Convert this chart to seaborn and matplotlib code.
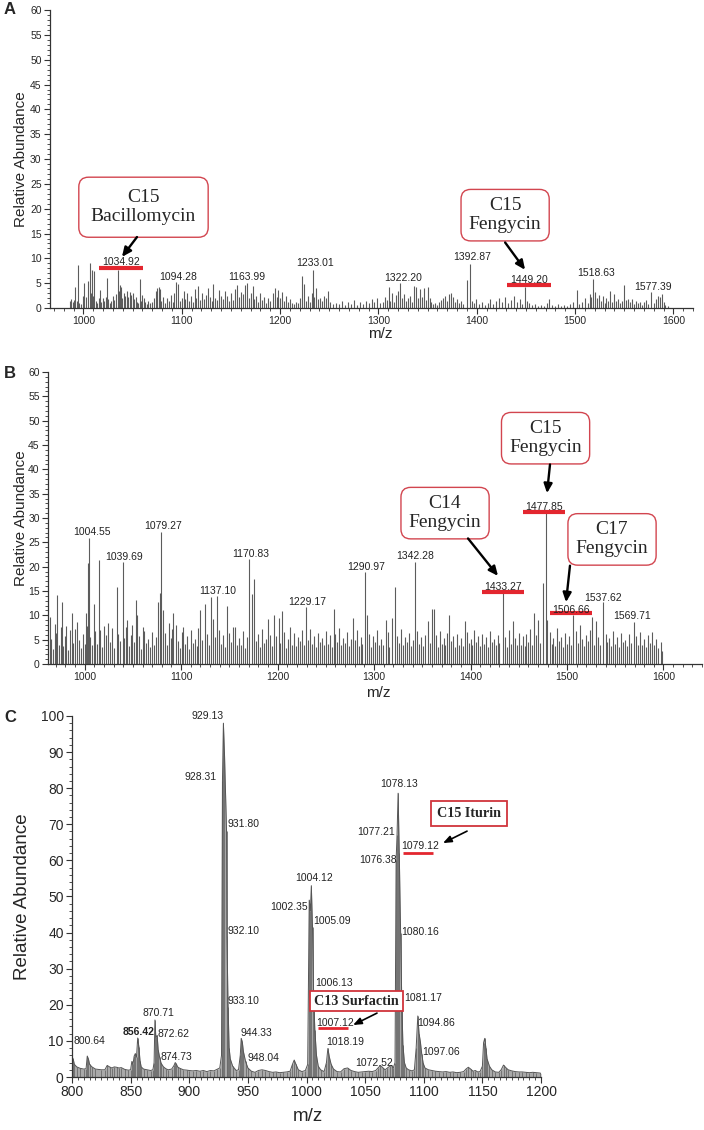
import numpy as np
import pandas as pd
import matplotlib
matplotlib.use('Agg')
import matplotlib.pyplot as plt
import seaborn as sns
from matplotlib.ticker import MultipleLocator

sns.set_style('ticks')
plt.rcParams['font.family'] = ['Liberation Sans', 'DejaVu Sans']

# ---------------- data ----------------
# panel A : stick spectrum (m/z, relative abundance)
a_peaks = [
    (986, 1.5), (987.5, 1.8), (989, 1.2), (990, 1.6), (991.9, 4.3), (993, 1.5), (994.6, 8.7), (996, 1.0),
    (998, 0.8), (999.5, 2.5), (1001, 5.0), (1002.5, 2.2), (1004.7, 5.4), (1006.4, 9.1), (1007.5, 3.0),
    (1008.8, 7.7), (1010, 2.5), (1011.2, 7.4), (1012.5, 1.5), (1014, 1.0), (1015.5, 2.0), (1016.6, 3.7),
    (1018, 1.2), (1019.5, 2.0), (1021, 1.5), (1022.5, 2.2), (1024.1, 6.0), (1025.5, 1.8), (1027, 1.0),
    (1028.5, 1.5), (1030, 2.5), (1031.5, 1.6), (1033, 2.8), (1034.92, 7.6), (1036, 3.5), (1036.9, 4.7),
    (1038, 4.3), (1039.5, 2.0), (1041, 3.0), (1042.5, 2.5), (1044, 3.5), (1045.5, 2.2), (1047, 3.2),
    (1048.5, 2.6), (1050, 3.0), (1051.5, 1.8), (1053, 2.2), (1054.5, 1.3), (1056, 1.0), (1057.2, 5.8),
    (1058.5, 1.5), (1060, 2.6), (1061.5, 2.0), (1063, 1.2), (1064.5, 0.8), (1066, 1.5), (1068, 1.0),
    (1070, 1.3), (1072, 2.0), (1074, 3.5), (1075.2, 4.0), (1076.4, 4.3), (1077.5, 3.8), (1079, 1.5),
    (1081, 2.2), (1083, 1.0), (1085, 2.0), (1087, 1.4), (1089, 2.6), (1091, 1.2), (1092.5, 3.0),
    (1094.28, 5.2), (1096.7, 4.9), (1098, 1.5), (1100, 2.0), (1102, 3.4), (1103.5, 1.8), (1105, 3.0),
    (1107, 1.5), (1109, 2.4), (1111, 1.2), (1113, 3.8), (1115, 2.0), (1117, 4.5), (1119, 1.6), (1121, 3.0),
    (1123, 1.8), (1125, 2.7), (1127, 4.0), (1129, 2.2), (1130.5, 1.5), (1132.3, 4.8), (1134, 2.0),
    (1136, 1.6), (1138, 3.6), (1140, 2.5), (1142, 1.8), (1144, 3.5), (1146, 2.4), (1148, 1.4), (1150, 3.0),
    (1152, 1.6), (1154, 3.8), (1156, 4.6), (1158, 2.2), (1160, 3.3), (1162, 2.8), (1163.99, 4.6),
    (1166.1, 5.0), (1168, 2.0), (1170, 3.1), (1172, 4.5), (1174, 1.8), (1176, 2.5), (1178, 1.2), (1180, 3.0),
    (1182, 1.6), (1184, 2.3), (1186, 1.0), (1188, 2.0), (1190, 1.5), (1192.5, 3.0), (1194.9, 4.1),
    (1196.5, 2.2), (1198, 3.7), (1200, 2.0), (1202, 3.2), (1204, 1.5), (1206, 2.5), (1208, 1.2), (1210, 1.8),
    (1212, 1.0), (1214, 0.8), (1216, 1.2), (1218, 1.0), (1220, 2.0), (1222, 6.4), (1224, 4.8), (1226, 1.5),
    (1228, 2.5), (1230, 1.2), (1232, 3.0), (1233.01, 7.6), (1235, 2.2), (1237, 4.0), (1239, 1.8), (1241, 2.0),
    (1243, 1.5), (1245, 2.4), (1247, 2.0), (1249, 3.4), (1251, 1.2), (1254, 0.8), (1257, 1.0), (1260, 0.8),
    (1263, 1.4), (1266, 0.6), (1269, 1.2), (1272, 0.8), (1275, 1.6), (1278, 0.7), (1281, 1.2), (1284, 0.8),
    (1287, 1.4), (1290, 1.0), (1293, 1.8), (1296, 1.2), (1299, 2.0), (1302, 1.0), (1305, 1.3), (1307, 2.2),
    (1309, 1.6), (1310.3, 4.3), (1312, 1.5), (1314, 3.0), (1316, 1.2), (1318, 2.6), (1320, 3.5),
    (1322.2, 5.0), (1324, 2.0), (1326, 2.8), (1328, 1.5), (1330, 2.0), (1332, 2.4), (1334, 1.2), (1336, 4.5),
    (1338, 4.2), (1340, 2.0), (1342, 3.8), (1344, 2.2), (1346, 4.1), (1348, 1.6), (1350, 4.2), (1352, 2.0),
    (1354, 1.2), (1356, 0.8), (1358, 1.0), (1360, 0.7), (1362, 1.2), (1364, 1.6), (1366, 2.0), (1368, 2.5),
    (1370, 1.4), (1372, 2.9), (1374, 3.1), (1376, 2.2), (1378, 1.2), (1380, 1.8), (1382, 1.0), (1384, 1.4),
    (1386, 0.8), (1389.7, 5.7), (1392.87, 8.9), (1395, 1.5), (1397, 1.0), (1399, 1.8), (1402, 0.8),
    (1405, 1.2), (1408, 0.6), (1411, 1.0), (1414, 1.8), (1417, 0.8), (1420, 1.5), (1423, 2.0), (1426, 1.2),
    (1429, 2.2), (1432, 1.0), (1435, 1.6), (1438, 2.5), (1441, 1.2), (1444, 1.8), (1446, 0.8),
    (1449.2, 4.3), (1451, 1.5), (1453, 1.0), (1456, 0.6), (1459, 0.8), (1462, 0.5), (1465, 0.7), (1468, 0.5),
    (1471, 1.0), (1474, 1.8), (1477, 0.6), (1480, 0.5), (1483, 0.8), (1486, 0.5), (1489, 0.7), (1492, 0.5),
    (1495, 0.8), (1498, 1.2), (1501.8, 3.6), (1504, 0.8), (1507, 1.2), (1510, 2.0), (1513, 1.0), (1515, 2.8),
    (1516.5, 2.2), (1518.63, 5.8), (1520, 3.2), (1522, 2.0), (1524, 2.6), (1526, 1.5), (1528, 2.4),
    (1530, 1.0), (1532, 2.0), (1534, 1.5), (1536, 3.5), (1538, 1.2), (1540, 2.8), (1542, 1.4), (1544, 1.8),
    (1546, 1.0), (1548, 1.5), (1549.8, 4.6), (1552, 1.6), (1554, 1.8), (1556, 1.2), (1558, 1.8), (1560, 0.8),
    (1562, 1.4), (1564, 1.0), (1566, 1.2), (1568, 0.7), (1570, 1.2), (1572, 1.6), (1574, 0.8),
    (1577.39, 3.3), (1580, 1.0), (1582, 1.8), (1584, 2.5), (1586, 2.2), (1588, 2.8), (1590, 1.2),
    (1592, 0.6), (1595, 0.4),
]

# panel B : main ions and background ions
b_major = [
    (963.6, 9.7), (968.8, 8.2), (971.5, 14.2), (976.5, 12.8), (981, 7.8), (986.8, 10.4), (992, 8.6),
    (1001, 10.4), (1003.6, 20.7), (1004.55, 25.8), (1009.4, 12.3), (1014.6, 21.3), (1020, 7.8), (1024, 8.5),
    (1033, 15.8), (1039.69, 21.0), (1044, 9.0), (1049, 8.0), (1053, 13.2), (1054.2, 10.0), (1060, 7.6),
    (1076, 12.7), (1078, 14.5), (1079.27, 27.2), (1081.5, 11.0), (1087, 8.4), (1092, 10.4), (1095, 8.0),
    (1102, 7.7), (1119.5, 11.0), (1124.8, 12.4), (1130.7, 13.8), (1133, 9.2), (1137.1, 14.0),
    (1147.5, 11.9), (1156, 7.6), (1170.83, 21.5), (1173, 14.4), (1175.5, 17.4), (1190.5, 9.3),
    (1196, 10.0), (1201, 9.5), (1205, 10.8), (1229.17, 11.8), (1258, 11.4), (1278, 9.5), (1290.97, 19.0),
    (1292.5, 10.0), (1312, 9.0), (1319, 9.5), (1321.5, 15.9), (1342.28, 21.0), (1356, 8.9), (1360, 11.3),
    (1362, 11.3), (1378, 10.0), (1394, 8.9), (1433.27, 14.5), (1444, 8.9), (1466, 10.5), (1470, 9.1),
    (1475.2, 16.6), (1477.85, 31.0), (1479, 9.0), (1506.66, 10.0), (1514, 8.0), (1526, 9.7), (1530, 8.8),
    (1537.62, 12.8), (1569.71, 8.7),
]

b_minor = [
    (965, 5.2), (967, 3.1), (970, 6.4), (973, 4.0), (975, 7.5), (978, 3.6), (980, 5.8), (983, 2.9),
    (985, 6.9), (988, 4.4), (990, 7.2), (994, 5.0), (996, 3.3), (998, 6.1), (1000, 4.2), (1002, 7.8),
    (1006, 5.5), (1008, 3.8), (1011, 6.7), (1013, 4.1), (1016, 7.0), (1018, 3.4), (1022, 5.9), (1026, 4.6),
    (1028, 7.3), (1030, 3.2), (1035, 6.2), (1037, 4.8), (1041, 5.3), (1043, 7.6), (1046, 3.7), (1048, 6.0),
    (1051, 4.5), (1056, 5.7), (1058, 3.0), (1062, 6.8), (1064, 4.3), (1066, 5.1), (1068, 3.5), (1070, 6.5),
    (1072, 4.0), (1074, 5.6), (1083, 6.3), (1085, 3.9), (1089, 5.4), (1091, 7.1), (1097, 4.7), (1099, 3.3),
    (1101, 6.6), (1104, 4.2), (1106, 5.8), (1108, 3.1), (1110, 6.9), (1112, 4.4), (1114, 5.2), (1116, 3.6),
    (1118, 7.4), (1122, 4.9), (1127, 6.1), (1129, 3.8), (1135, 5.5), (1139, 7.0), (1141, 4.1), (1143, 5.9),
    (1145, 3.4), (1150, 6.4), (1152, 4.6), (1154, 7.7), (1158, 3.9), (1160, 5.3), (1162, 4.0), (1164, 6.7),
    (1166, 3.2), (1168, 5.6), (1178, 4.8), (1180, 6.2), (1182, 3.5), (1184, 7.2), (1186, 4.3), (1188, 5.1),
    (1192, 6.0), (1194, 3.7), (1198, 5.8), (1203, 4.4), (1207, 6.6), (1209, 3.3), (1211, 5.2), (1213, 7.5),
    (1215, 4.0), (1217, 6.3), (1219, 3.6), (1221, 5.5), (1223, 4.7), (1225, 6.9), (1227, 3.9), (1232, 5.0),
    (1234, 7.1), (1236, 4.2), (1238, 5.7), (1240, 3.4), (1242, 6.4), (1244, 4.5), (1246, 5.3), (1248, 3.8),
    (1250, 6.8), (1252, 4.1), (1254, 5.9), (1256, 3.5), (1260, 6.2), (1262, 4.6), (1264, 7.3), (1266, 3.9),
    (1268, 5.4), (1270, 4.3), (1272, 6.5), (1274, 3.6), (1276, 5.1), (1280, 4.9), (1282, 7.0), (1284, 3.7),
    (1286, 5.6), (1288, 4.2), (1295, 6.1), (1297, 3.4), (1299, 5.7), (1301, 4.5), (1303, 6.9), (1305, 3.8),
    (1307, 5.2), (1309, 4.0), (1314, 6.6), (1316, 3.5), (1324, 5.8), (1326, 4.3), (1328, 7.2), (1330, 3.9),
    (1332, 5.5), (1334, 4.6), (1336, 6.3), (1338, 3.6), (1340, 5.0), (1345, 6.7), (1347, 4.1), (1349, 5.6),
    (1351, 3.7), (1353, 6.0), (1358, 4.4), (1364, 5.9), (1366, 3.4), (1368, 6.8), (1370, 4.2), (1372, 5.3),
    (1374, 3.8), (1376, 6.4), (1380, 4.7), (1382, 5.7), (1384, 3.5), (1386, 6.1), (1388, 4.0), (1390, 5.4),
    (1392, 3.6), (1396, 6.5), (1398, 4.3), (1400, 5.1), (1402, 3.9), (1404, 7.0), (1406, 4.5), (1408, 5.8),
    (1410, 3.7), (1412, 6.2), (1414, 4.1), (1416, 5.5), (1418, 3.4), (1420, 6.7), (1422, 4.6), (1424, 5.2),
    (1426, 3.8), (1428, 6.0), (1430, 4.4), (1436, 5.6), (1438, 3.5), (1440, 6.9), (1442, 4.2), (1446, 5.3),
    (1448, 3.9), (1450, 6.4), (1452, 4.0), (1454, 5.7), (1456, 3.6), (1458, 6.1), (1460, 4.5), (1462, 7.2),
    (1464, 3.8), (1468, 5.9), (1472, 4.3), (1482, 6.6), (1484, 4.1), (1486, 5.4), (1488, 3.7), (1490, 7.4),
    (1492, 4.8), (1494, 5.5), (1496, 3.5), (1498, 6.3), (1500, 4.2), (1502, 5.8), (1504, 3.9), (1509, 6.7),
    (1511, 4.4), (1516, 5.1), (1518, 3.6), (1520, 6.0), (1522, 4.7), (1524, 7.0), (1528, 4.0), (1532, 5.6),
    (1534, 3.8), (1540, 6.2), (1542, 4.5), (1544, 5.3), (1546, 3.7), (1548, 6.8), (1550, 4.1), (1552, 5.5),
    (1554, 3.4), (1556, 6.4), (1558, 4.6), (1560, 5.0), (1562, 3.6), (1564, 6.1), (1566, 4.3), (1572, 5.7),
    (1574, 3.9), (1576, 6.5), (1578, 4.0), (1580, 5.2), (1582, 3.5), (1584, 5.9), (1586, 4.4), (1588, 6.6),
    (1590, 3.8), (1592, 5.1), (1594, 3.2), (1597, 4.5), (1599, 2.6),
]

# panel C : profile spectrum
c_profile = [
    (800, 5.5), (801, 5.0), (802, 3.5), (804, 2.8), (807, 2.4), (810, 2.2), (812, 2.3), (813, 5.8),
    (814, 5.0), (815, 3.5), (817, 2.8), (820, 2.2), (825, 2.0), (828, 2.0), (830, 3.2), (832, 2.8),
    (834, 2.5), (836, 2.8), (838, 2.7), (840, 2.5), (842, 2.6), (845, 2.1), (848, 1.9), (850, 2.0),
    (851, 4.3), (852, 3.5), (853, 5.8), (854, 6.5), (855, 5.5), (856, 10.8), (857, 8.4), (858, 4.5),
    (859, 2.8), (861, 2.2), (864, 2.0), (867, 1.8), (869, 2.0), (870, 4.0), (870.7, 15.8), (871.5, 11.0),
    (872.6, 11.5), (873.5, 7.5), (874.7, 5.5), (876, 3.8), (878, 2.8), (880, 2.3), (882, 2.0), (885, 2.2),
    (887, 3.2), (888, 4.0), (889, 3.6), (890, 2.8), (892, 2.4), (895, 2.0), (898, 1.9), (900, 1.8),
    (903, 1.7), (906, 1.8), (909, 1.6), (912, 1.8), (915, 1.5), (918, 1.8), (921, 1.7), (924, 2.2),
    (926, 2.5), (927.5, 6.0), (928.3, 82.0), (929.1, 98.0), (930.0, 90.0), (931.8, 68.0), (932.1, 39.0),
    (933.1, 19.5), (934, 8.0), (935, 5.0), (937, 3.0), (940, 1.8), (942, 2.0), (943.5, 6.0), (944.3, 10.7),
    (945.2, 9.8), (946.2, 7.0), (948, 4.3), (950, 2.5), (953, 1.6), (956, 1.3), (959, 1.8), (962, 2.0),
    (965, 1.8), (968, 1.5), (971, 1.3), (974, 1.4), (977, 1.2), (980, 1.3), (983, 1.4), (986, 1.6),
    (988, 3.5), (989.5, 4.7), (991, 3.5), (993, 2.0), (996, 1.5), (999, 1.8), (1001, 3.5), (1002.3, 49.0),
    (1003.3, 46.0), (1004.1, 53.0), (1005.1, 41.6), (1006.1, 22.0), (1007.1, 13.0), (1008.5, 6.0),
    (1010, 3.0), (1012, 2.0), (1015, 1.5), (1017, 4.0), (1018.2, 7.9), (1019.5, 5.5), (1021, 3.5),
    (1023, 2.2), (1026, 1.5), (1029, 1.4), (1032, 2.3), (1035, 2.5), (1038, 1.8), (1041, 1.5), (1044, 1.3),
    (1047, 1.4), (1050, 1.5), (1053, 1.6), (1056, 1.5), (1059, 1.8), (1061, 2.5), (1063, 3.2), (1065, 2.6),
    (1067, 2.0), (1069, 2.5), (1071, 3.0), (1072.5, 3.2), (1074, 2.5), (1075.5, 4.0), (1076.4, 60.0),
    (1077.2, 67.0), (1078.1, 78.6), (1079.1, 62.0), (1080.2, 40.0), (1081.2, 21.8), (1082.2, 9.0),
    (1083.5, 4.0), (1085, 2.5), (1087, 2.0), (1090, 1.7), (1092, 2.0), (1093.5, 8.0), (1094.9, 16.9),
    (1096, 12.0), (1097.1, 9.8), (1098.2, 6.5), (1099.5, 3.8), (1101, 2.5), (1104, 2.0), (1107, 1.8),
    (1110, 1.6), (1113, 1.5), (1116, 1.4), (1119, 1.5), (1122, 1.3), (1125, 1.4), (1128, 1.2), (1131, 1.3),
    (1134, 1.5), (1136, 2.2), (1138, 2.7), (1140, 2.2), (1142, 1.6), (1144, 1.8), (1146, 1.4), (1148, 1.5),
    (1150, 3.0), (1151, 9.5), (1152, 10.7), (1153, 8.0), (1154, 5.0), (1156, 3.0), (1158, 2.0), (1161, 1.4),
    (1164, 1.3), (1166, 2.0), (1168, 3.3), (1170, 2.6), (1172, 2.0), (1175, 1.7), (1178, 1.5), (1181, 1.4),
    (1184, 1.4), (1187, 1.3), (1190, 1.2), (1193, 1.3), (1196, 1.2), (1199, 1.1), (1200, 1.0),
]

df_a = pd.DataFrame(a_peaks, columns=['mz', 'abund'])
df_b = pd.DataFrame(b_major + b_minor, columns=['mz', 'abund'])
df_c = pd.DataFrame(c_profile, columns=['mz', 'abund'])

# ---------------- figure ----------------
fig = plt.figure(figsize=(7.04, 11.30), dpi=100)
ax_a = fig.add_axes([0.0710, 0.7274, 0.9134, 0.2637])
ax_b = fig.add_axes([0.0682, 0.4124, 0.9290, 0.2584])
ax_c = fig.add_axes([0.1023, 0.0469, 0.6662, 0.3195])

LINE = '#5c5c5c'
RED = '#e3262f'
BOX_RED = '#d2454f'


def style_axis(ax, xlim, ylim, xmaj, xmin, ymaj, ymin, tsize):
    ax.set_xlim(*xlim)
    ax.set_ylim(*ylim)
    sns.despine(ax=ax)
    for s in ['left', 'bottom']:
        ax.spines[s].set_linewidth(0.9)
        ax.spines[s].set_color('#333333')
    ax.xaxis.set_major_locator(MultipleLocator(xmaj))
    ax.xaxis.set_minor_locator(MultipleLocator(xmin))
    ax.yaxis.set_major_locator(MultipleLocator(ymaj))
    ax.yaxis.set_minor_locator(MultipleLocator(ymin))
    ax.tick_params(which='major', length=4, width=0.8, labelsize=tsize, color='#333333', pad=2)
    ax.tick_params(which='minor', length=2, width=0.6, color='#333333')


def callout(ax, text, box_xy, arrow_from, arrow_to, pad=0.4):
    ax.text(box_xy[0], box_xy[1], text, ha='center', va='center', fontsize=14,
            family='Liberation Serif', linespacing=1.15,
            bbox=dict(boxstyle=f'round,pad={pad},rounding_size=0.5', fc='white', ec=BOX_RED, lw=1.0))
    ax.annotate('', xy=arrow_to, xytext=arrow_from,
                arrowprops=dict(arrowstyle='-|>,head_length=0.55,head_width=0.25',
                                color='black', lw=1.7, shrinkA=0, shrinkB=0))


def underline(ax, x0, x1, y, lw=3):
    ax.plot([x0, x1], [y, y], color=RED, lw=lw, solid_capstyle='butt')


# ---- panel A ----
ax_a.vlines(df_a['mz'], 0, df_a['abund'], color=LINE, lw=0.8)
style_axis(ax_a, (966, 1620), (0, 60), 100, 10, 5, 1, 7.5)
ax_a.set_ylabel('Relative Abundance', fontsize=11)
ax_a.yaxis.set_label_coords(-0.034, 0.5)
ax_a.set_xlabel('m/z', fontsize=11)
ax_a.xaxis.set_label_coords(0.513, -0.062)

a_label_pos = [('1034.92', 1038.2, 9.3), ('1094.28', 1096.2, 6.2), ('1163.99', 1166.4, 6.2),
               ('1233.01', 1235.6, 9.1), ('1322.20', 1325.1, 6.0), ('1392.87', 1395.3, 10.3),
               ('1449.20', 1453.3, 5.6), ('1518.63', 1521.4, 7.0), ('1577.39', 1579.4, 4.2)]
for t, x, y in a_label_pos:
    ax_a.text(x, y, t, ha='center', va='center', fontsize=7.5, color='#222222')
underline(ax_a, 1015.8, 1060.6, 8.05)
underline(ax_a, 1430.9, 1475.7, 4.63)
callout(ax_a, 'C15\nBacillomycin', (1061.1, 20.3), (1054.5, 14.3), (1039.2, 10.3), pad=0.62)
callout(ax_a, 'C15\nFengycin', (1428.9, 18.7), (1428.9, 13.2), (1449.2, 7.7))

# ---- panel B ----
ax_b.vlines(df_b['mz'], 0, df_b['abund'], color=LINE, lw=0.8)
style_axis(ax_b, (962, 1640), (0, 60), 100, 10, 5, 1, 7.5)
ax_b.set_ylabel('Relative Abundance', fontsize=11)
ax_b.yaxis.set_label_coords(-0.031, 0.5)
ax_b.set_xlabel('m/z', fontsize=11)
ax_b.xaxis.set_label_coords(0.505, -0.074)

b_label_pos = [('1004.55', 1007.6, 27.1), ('1079.27', 1081.2, 28.4), ('1039.69', 1040.8, 22.0),
               ('1170.83', 1172.4, 22.6), ('1137.10', 1138.2, 15.0), ('1229.17', 1230.5, 12.7),
               ('1290.97', 1291.7, 19.9), ('1342.28', 1342.5, 22.2), ('1537.62', 1537.4, 13.6),
               ('1569.71', 1567.4, 9.9), ('1433.27', 1433.7, 15.8), ('1477.85', 1476.2, 32.3),
               ('1506.66', 1504.2, 11.1)]
for t, x, y in b_label_pos:
    ax_b.text(x, y, t, ha='center', va='center', fontsize=7.5, color='#222222')
underline(ax_b, 1454.4, 1498.0, 31.2)
underline(ax_b, 1411.9, 1455.4, 14.8)
underline(ax_b, 1482.4, 1526.0, 10.5)
callout(ax_b, 'C15\nFengycin', (1477.8, 46.4), (1482.4, 41.0), (1479.3, 35.1))
callout(ax_b, 'C14\nFengycin', (1373.6, 31.0), (1397.4, 25.8), (1428.5, 18.1))
callout(ax_b, 'C17\nFengycin', (1546.7, 25.6), (1503.1, 20.2), (1499.0, 12.7))

# ---- panel C ----
ax_c.fill_between(df_c['mz'], 0, df_c['abund'], color='#a9a9a9', lw=0)
ax_c.vlines(df_c['mz'], 0, df_c['abund'], color='#6a6a6a', lw=0.6)
sns.lineplot(data=df_c, x='mz', y='abund', ax=ax_c, color='#555555', lw=0.7, sort=True)
style_axis(ax_c, (800, 1200), (0, 100), 50, 5, 10, 2, 10)
ax_c.set_ylabel('Relative Abundance', fontsize=13.5)
ax_c.yaxis.set_label_coords(-0.088, 0.5)
ax_c.set_xlabel('m/z', fontsize=13.5)
ax_c.xaxis.set_label_coords(0.503, -0.085)

c_label_pos = [('929.13', 929.5, 100, 'right'), ('928.31', 923.7, 83.1, 'right'),
               ('931.80', 933.0, 70.1, 'left'), ('932.10', 933.0, 40.4, 'left'),
               ('933.10', 933.0, 21.1, 'left'), ('1004.12', 1006.4, 55.1, 'center'),
               ('1002.35', 1001.3, 47.1, 'right'), ('1005.09', 1005.5, 43.2, 'left'),
               ('1006.13', 1007.2, 26.0, 'left'), ('1007.12', 1008.1, 15.0, 'left'),
               ('1018.19', 1016.6, 9.7, 'left'), ('1072.52', 1041.4, 3.9, 'left'),
               ('1078.13', 1078.9, 81.2, 'center'), ('1077.21', 1075.5, 67.9, 'right'),
               ('1076.38', 1077.2, 60.1, 'right'), ('1079.12', 1080.6, 64.0, 'left'),
               ('1080.16', 1080.6, 40.2, 'left'), ('1081.17', 1083.2, 21.9, 'left'),
               ('1094.86', 1094.2, 15.0, 'left'), ('1097.06', 1098.5, 6.9, 'left'),
               ('800.64', 800.9, 10.0, 'left'), ('870.71', 873.8, 17.7, 'center'),
               ('872.62', 872.5, 11.9, 'left'), ('874.73', 875.1, 5.5, 'left'),
               ('944.33', 944.1, 12.2, 'left'), ('948.04', 949.3, 5.3, 'left')]
for t, x, y, ha in c_label_pos:
    ax_c.text(x, y, t, ha=ha, va='center', fontsize=7.5, color='#222222')
ax_c.text(857.1, 12.5, '856.42', ha='center', va='center', fontsize=7.5, fontweight='bold', color='#222222')

underline(ax_c, 1082.3, 1107.9, 62.0, lw=2)
underline(ax_c, 1009.8, 1035.4, 13.6, lw=2)
for text, xy, pad in [('C15 Iturin', (1138.6, 73.0), 0.45), ('C13 Surfactin', (1042.6, 21.05), 0.28)]:
    ax_c.text(xy[0], xy[1], text, ha='center', va='center', fontsize=10.2, family='Liberation Serif',
              fontweight='bold', bbox=dict(boxstyle=f'square,pad={pad}', fc='white', ec='#d0343c', lw=1.3))
for a_from, a_to in [((1136.9, 68.1), (1116.4, 64.8)), ((1060.1, 17.7), (1039.7, 14.4))]:
    ax_c.annotate('', xy=a_to, xytext=a_from,
                  arrowprops=dict(arrowstyle='-|>,head_length=0.5,head_width=0.2',
                                  color='black', lw=1.2, shrinkA=0, shrinkB=0))

# panel letters
for letter, (x, y) in zip(['A', 'B', 'C'], [(4, 1120), (4, 757), (4, 413)]):
    fig.text(x / 704, y / 1130, letter, fontsize=12, fontweight='bold', va='center', ha='left')

fig.savefig('out.png', dpi=100)
